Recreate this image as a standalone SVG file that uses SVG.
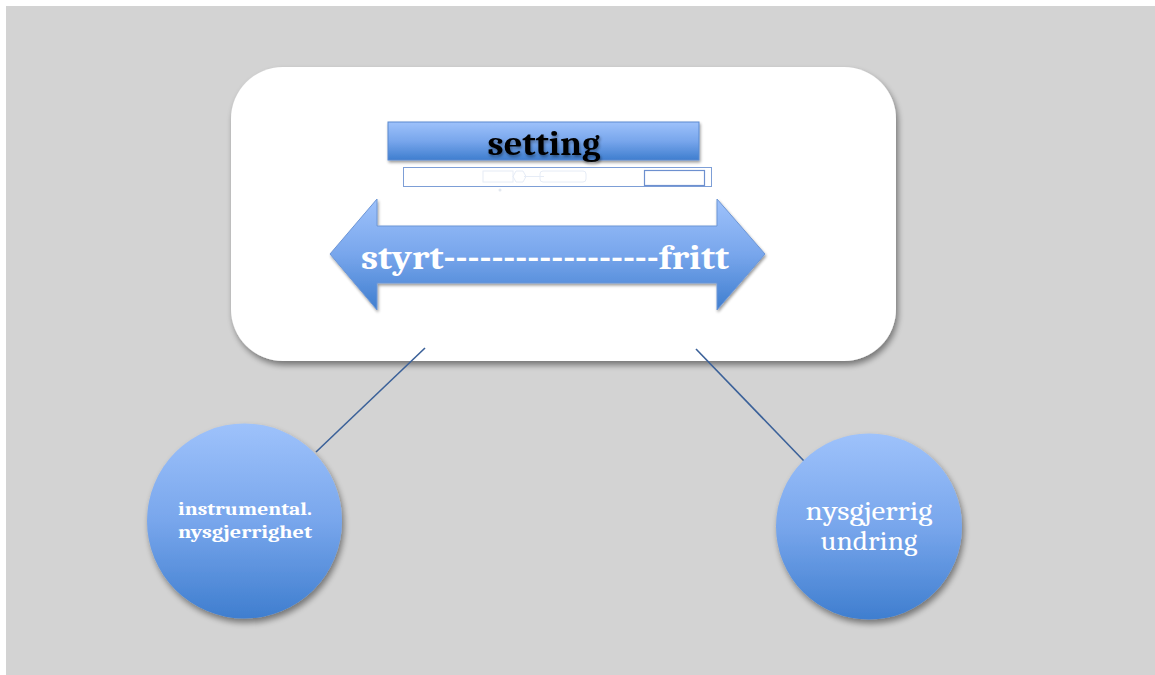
<svg xmlns="http://www.w3.org/2000/svg" width="1155" height="675" viewBox="0 0 1155 675">
  <style>
    .lbl { font-family: Cambria, "Liberation Serif", "DejaVu Serif", serif; text-anchor: middle; }
    .white { fill: #ffffff; }
    .conn { stroke: #3b6199; stroke-width: 1.6; fill: none; }
  </style>
  <defs>
    <linearGradient id="blueGrad" x1="0" y1="0" x2="0" y2="1">
      <stop offset="0" stop-color="#9ec2fb"/>
      <stop offset="0.5" stop-color="#78a6ec"/>
      <stop offset="1" stop-color="#3f7ecf"/>
    </linearGradient>
    <filter id="shadow" x="-20%" y="-20%" width="140%" height="140%">
      <feGaussianBlur in="SourceAlpha" stdDeviation="3"/>
      <feOffset dx="2" dy="4" result="b"/>
      <feComponentTransfer><feFuncA type="linear" slope="0.45"/></feComponentTransfer>
      <feMerge><feMergeNode/><feMergeNode in="SourceGraphic"/></feMerge>
    </filter>
    <filter id="softShadow" x="-20%" y="-20%" width="140%" height="140%">
      <feGaussianBlur in="SourceAlpha" stdDeviation="1.5"/>
      <feOffset dx="1" dy="2" result="b"/>
      <feComponentTransfer><feFuncA type="linear" slope="0.4"/></feComponentTransfer>
      <feMerge><feMergeNode/><feMergeNode in="SourceGraphic"/></feMerge>
    </filter>
  </defs>

  <!-- backdrop -->
  <rect x="0" y="0" width="1155" height="675" fill="#ffffff"/>
  <rect x="6" y="6" width="1149" height="669" fill="#d3d3d3"/>

  <!-- main panel -->
  <g id="panel">
    <rect x="231" y="67" width="665" height="294" rx="52" ry="52" fill="#ffffff" filter="url(#shadow)"/>
  </g>

  <!-- setting heading bar -->
  <g id="setting">
    <rect x="388" y="122" width="311" height="38" fill="url(#blueGrad)" stroke="#5b8ad0" stroke-width="1" filter="url(#softShadow)"/>
    <text class="lbl" x="544" y="155" font-size="35" font-weight="bold" fill="#000000" textLength="113" lengthAdjust="spacingAndGlyphs" filter="url(#softShadow)">setting</text>
  </g>

  <!-- slider strip -->
  <g id="slider">
    <rect x="403.5" y="167.5" width="308" height="19" fill="#ffffff" stroke="#7d9ed6" stroke-width="1"/>
    <rect x="644.5" y="170.5" width="60" height="15" fill="#ffffff" stroke="#6d90cf" stroke-width="1.2"/>
    <g stroke="#e6ecf6" stroke-width="1" fill="none">
      <rect x="483" y="171" width="30" height="11"/>
      <path d="M513 176.5 l3 -5.5 h7 l3 5.5 l-3 5.5 h-7 z"/>
      <path d="M524 176.5 h20"/>
      <rect x="540" y="171" width="46" height="11" rx="3"/>
    </g>
    <circle cx="500" cy="190" r="1.5" fill="#e3e8f0"/>
  </g>

  <!-- double-headed arrow -->
  <g id="arrow">
    <path d="M330 254 L377 199 L377 226 L717 226 L717 199 L765 254 L717 310 L717 283 L377 283 L377 310 Z" fill="url(#blueGrad)" stroke="#6d96d6" stroke-width="1" filter="url(#softShadow)"/>
    <text class="lbl white" x="545" y="269" font-size="35" font-weight="bold" textLength="368" lengthAdjust="spacingAndGlyphs">styrt------------------fritt</text>
  </g>

  <!-- connectors -->
  <g id="connectors">
    <line class="conn" x1="425" y1="348" x2="316" y2="452"/>
    <line class="conn" x1="696" y1="349" x2="804" y2="461"/>
  </g>

  <!-- left circle -->
  <g id="instrumental">
    <circle cx="244.5" cy="521" r="97.5" fill="url(#blueGrad)" filter="url(#shadow)"/>
    <text class="lbl white" x="245" y="515" font-size="19" font-weight="bold" textLength="134" lengthAdjust="spacingAndGlyphs">instrumental.</text>
    <text class="lbl white" x="245" y="538" font-size="19" font-weight="bold" textLength="134" lengthAdjust="spacingAndGlyphs">nysgjerrighet</text>
  </g>

  <!-- right circle -->
  <g id="undring">
    <circle cx="869" cy="526.5" r="93" fill="url(#blueGrad)" filter="url(#shadow)"/>
    <text class="lbl white" x="869" y="520" font-size="28" textLength="127" lengthAdjust="spacingAndGlyphs">nysgjerrig</text>
    <text class="lbl white" x="869" y="550" font-size="28" textLength="97" lengthAdjust="spacingAndGlyphs">undring</text>
  </g>
</svg>
